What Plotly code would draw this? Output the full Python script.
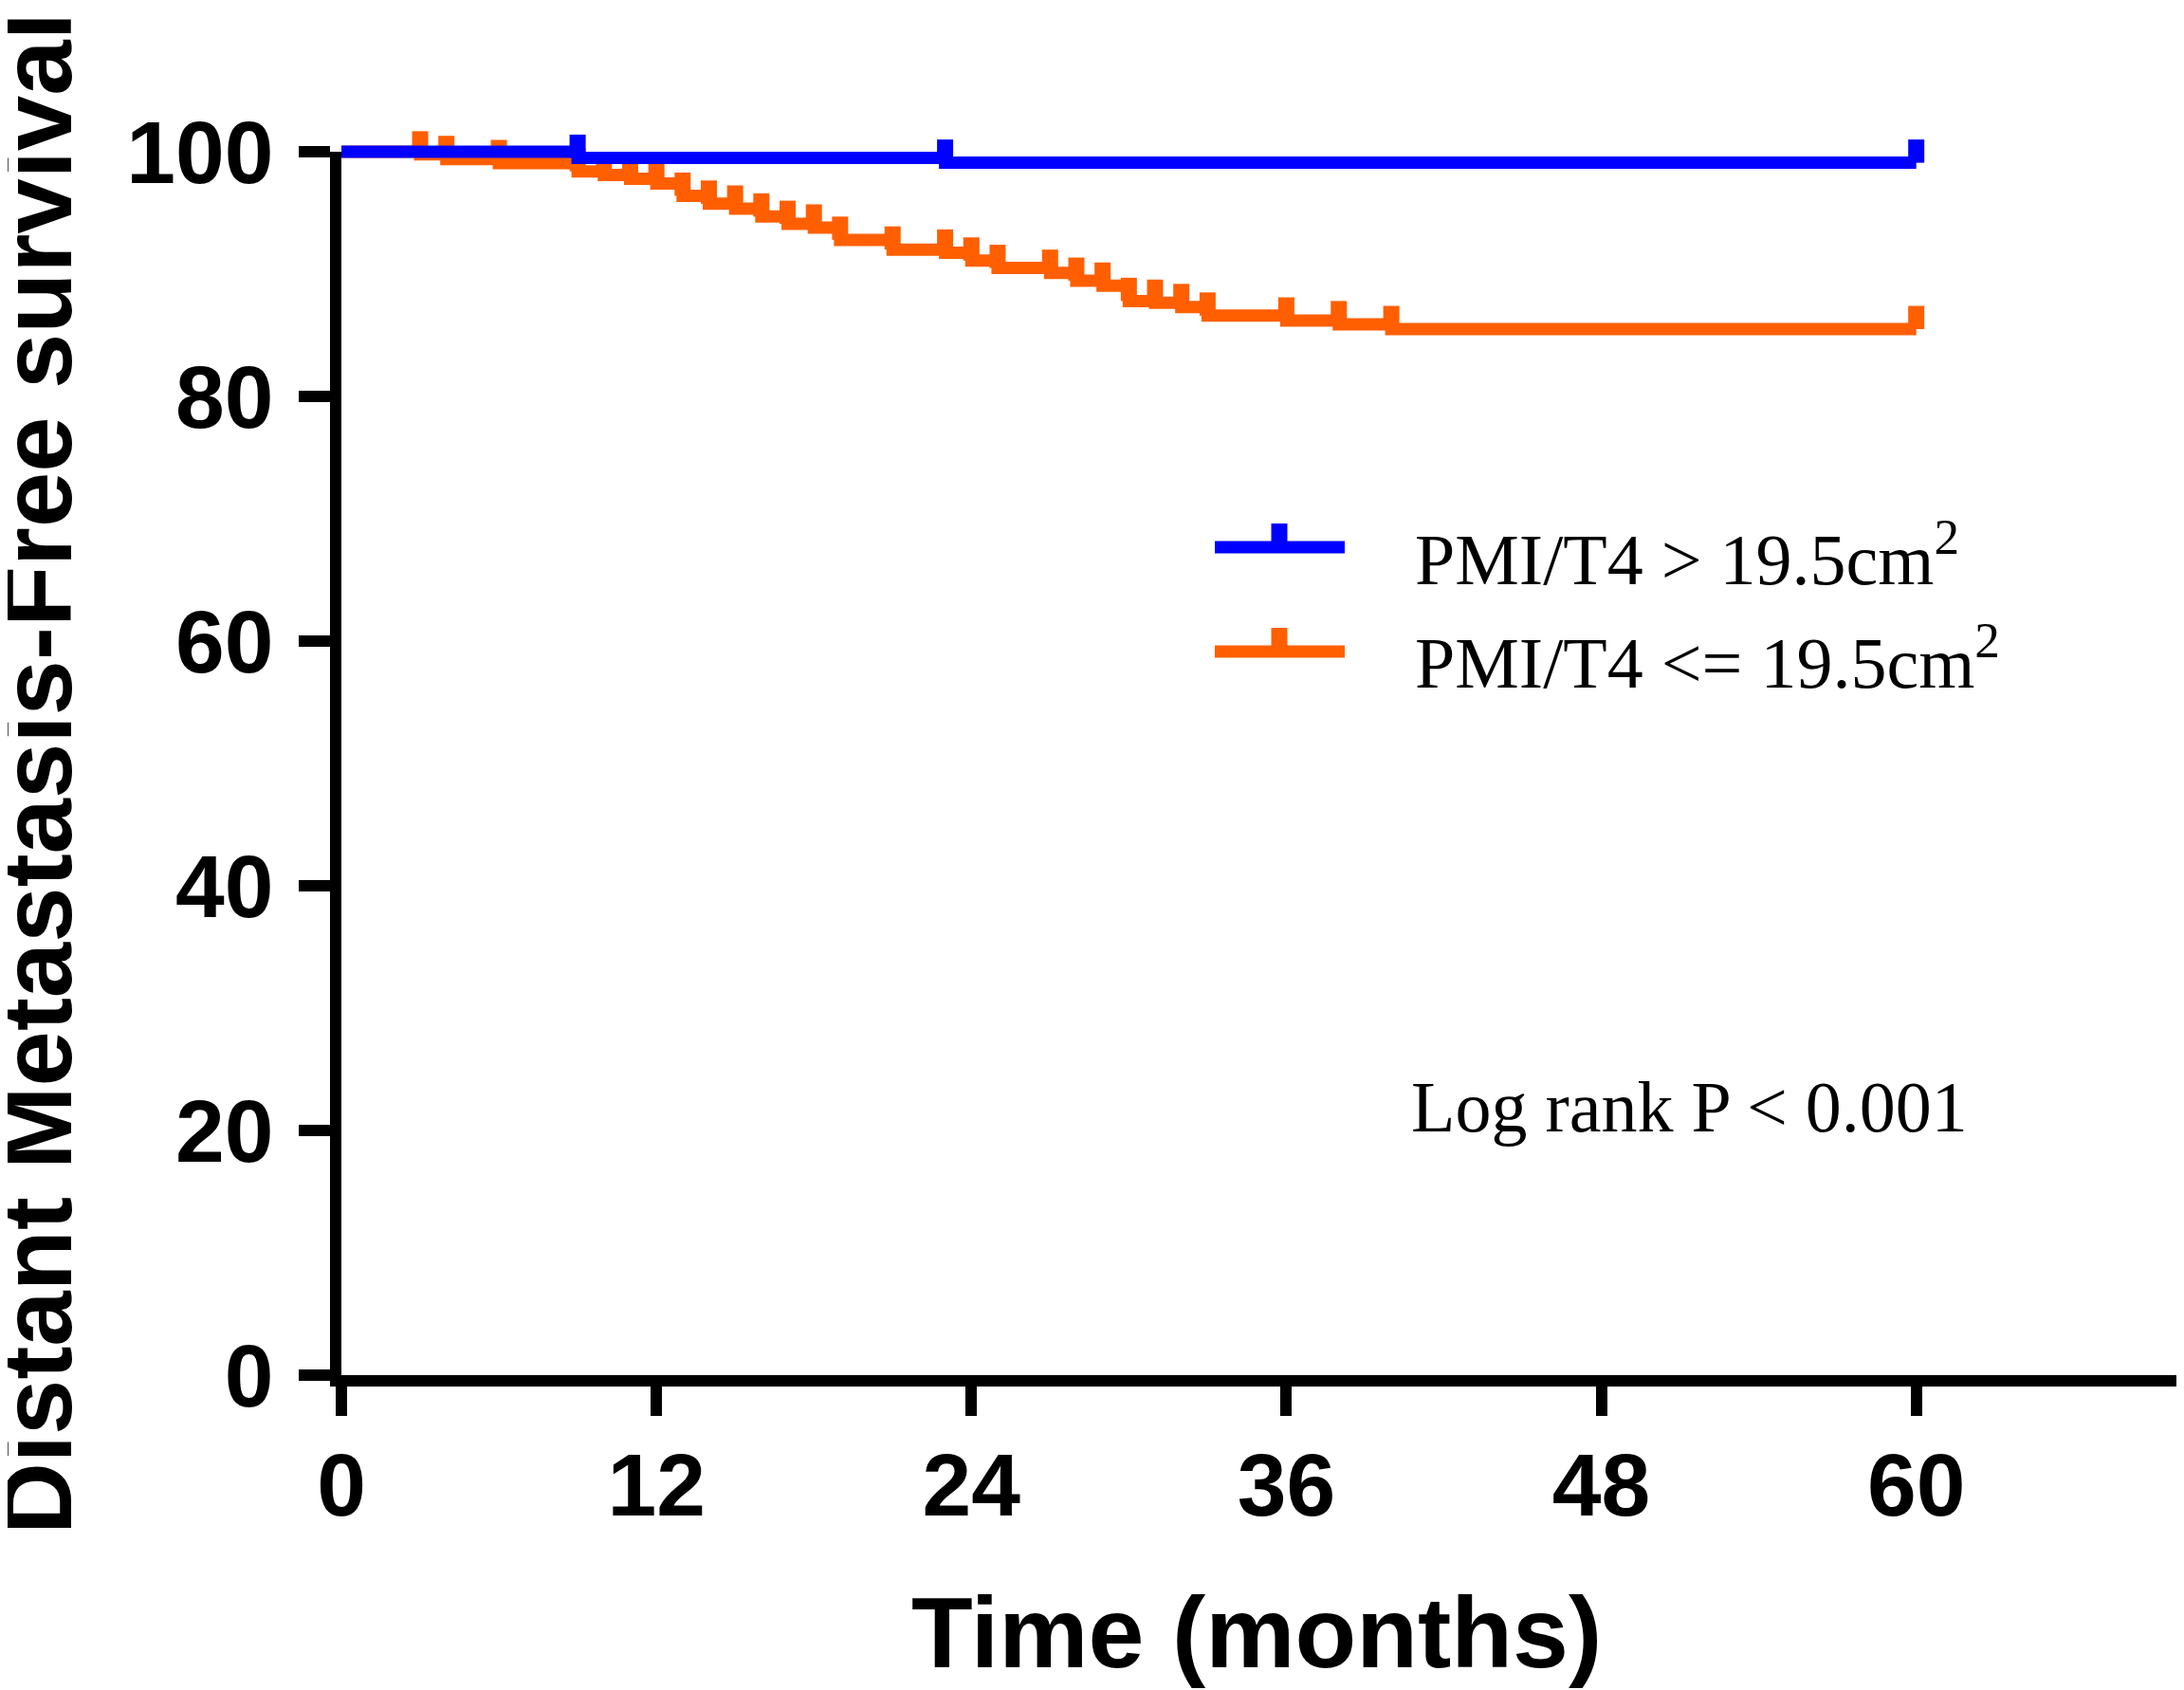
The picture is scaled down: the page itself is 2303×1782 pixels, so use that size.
import plotly.graph_objects as go

# Kaplan-Meier steps (time in months, survival in %)
# group PMI/T4 > 19.5cm2
hi_time = [0, 9, 23, 60]
hi_surv = [100, 99.5, 99.1, 99.1]
hi_cens = [9, 23, 60]

# group PMI/T4 <= 19.5cm2
lo_time = [0, 3, 4, 6, 9, 10, 11, 12, 13, 14, 15, 16, 17, 18, 19, 21, 23, 24,
           25, 27, 28, 29, 30, 31, 32, 33, 36, 38, 40, 60]
lo_surv = [100, 99.78, 99.4, 99.07, 98.4, 98.1, 97.8, 97.4, 96.4, 95.75, 95.35,
           94.7, 94.1, 93.8, 92.8, 92.0, 91.75, 91.1, 90.5, 90.1, 89.45, 89.05,
           87.8, 87.65, 87.3, 86.6, 86.2, 85.9, 85.5, 85.5]
lo_cens = [3, 4, 6, 9, 10, 11, 12, 13, 14, 15, 16, 17, 18, 19, 21, 23, 24, 25,
           27, 28, 29, 30, 31, 32, 33, 36, 38, 40, 60]

x_ticks = [0, 12, 24, 36, 48, 60]
y_ticks = [0, 20, 40, 60, 80, 100]

BLUE = "#0000FF"
ORANGE = "#FF5F00"

# the page body keeps an 8px margin, so the figure is 8px smaller
W, H = 2295, 1774
L, R, T, B = 352, 0, 92, 332
PLOT_W = W - L - R
PLOT_H = H - T - B
AX_H = 1290  # pixel height of 0..100 on the visible y axis
X0, Y0 = 360, 1450  # page pixels of the plot area's left / bottom edge


def px(x):
    return (x - X0) / PLOT_W


def py(y):
    return (Y0 - y) / PLOT_H


def step_value(times, surv, t):
    v = surv[0]
    for ti, si in zip(times, surv):
        if ti <= t:
            v = si
    return v


fig = go.Figure()

# empty trace so the visible x/y axes get drawn
fig.add_trace(go.Scatter(x=[], y=[], xaxis="x", yaxis="y", hoverinfo="skip"))


def add_group(times, surv, cens, color):
    fig.add_trace(go.Scatter(
        x=times, y=surv, mode="lines", line=dict(color=color, width=13, shape="hv"),
        xaxis="x", yaxis="y2", hoverinfo="skip"))
    fig.add_trace(go.Scatter(
        x=cens, y=[step_value(times, surv, t) for t in cens], mode="markers",
        marker=dict(size=1, opacity=0),
        error_y=dict(type="constant", symmetric=False, value=1.9, valueminus=0,
                     thickness=17, width=0, color=color),
        xaxis="x", yaxis="y2", hoverinfo="skip"))


add_group(lo_time, lo_surv, lo_cens, ORANGE)
add_group(hi_time, hi_surv, hi_cens, BLUE)

tick_font = dict(family="Liberation Sans, Arial", size=93, color="black", weight="bold")
title_font = dict(family="Liberation Sans, Arial", size=106, color="black", weight="bold")
serif = dict(family="Liberation Serif, Times New Roman", size=76, color="black")

fig.update_layout(
    width=W, height=H,
    margin=dict(l=L, r=R, t=T, b=B, pad=0),
    paper_bgcolor="white", plot_bgcolor="white",
    showlegend=False,
    xaxis=dict(range=[0, 70.2], tickvals=x_ticks, showline=True, linewidth=12,
               linecolor="black", ticks="outside", ticklen=31, tickwidth=12,
               tickcolor="black", tickfont=tick_font, showgrid=False,
               zeroline=False, anchor="y", ticklabelstandoff=-7),
    yaxis=dict(range=[0, 100], domain=[0, AX_H / PLOT_H], tickvals=y_ticks,
               showline=True, linewidth=12, linecolor="black", ticks="outside",
               ticklen=33, tickwidth=12, tickcolor="black", tickfont=tick_font,
               showgrid=False, zeroline=False, anchor="x", ticklabelstandoff=8),
    yaxis2=dict(range=[0, 100 * PLOT_H / AX_H], domain=[0, 1], visible=False,
                anchor="x"),
)

# axis titles
fig.add_annotation(text="Distant Metastasis-Free survival",
                   font=dict(title_font, size=105),
                   textangle=-90, xref="paper", yref="paper", x=px(38), y=py(816),
                   xanchor="center", yanchor="middle", showarrow=False)
fig.add_annotation(text="Time (months)", font=title_font, xref="paper", yref="paper",
                   x=px(1325), y=py(1721), xanchor="center", yanchor="middle",
                   showarrow=False)

# legend drawn by hand: line with an upward censor tick
legend_rows = [("PMI/T4 &gt; 19.5cm<sup>2</sup>", BLUE, 577),
               ("PMI/T4 &lt;= 19.5cm<sup>2</sup>", ORANGE, 687)]
for label, color, yc in legend_rows:
    fig.add_shape(type="line", xref="paper", yref="paper", x0=px(1281), x1=px(1418),
                  y0=py(yc), y1=py(yc), line=dict(color=color, width=13))
    fig.add_shape(type="line", xref="paper", yref="paper", x0=px(1349), x1=px(1349),
                  y0=py(yc), y1=py(yc - 25), line=dict(color=color, width=17))
    fig.add_annotation(text=label, font=serif, xref="paper", yref="paper",
                       x=px(1490), y=py(yc + 7), xanchor="left", yanchor="middle",
                       showarrow=False)

fig.add_annotation(text="Log rank P &lt; 0.001", font=serif, xref="paper", yref="paper",
                   x=px(1486), y=py(1167), xanchor="left", yanchor="middle",
                   showarrow=False)

fig.write_html("out.html")
